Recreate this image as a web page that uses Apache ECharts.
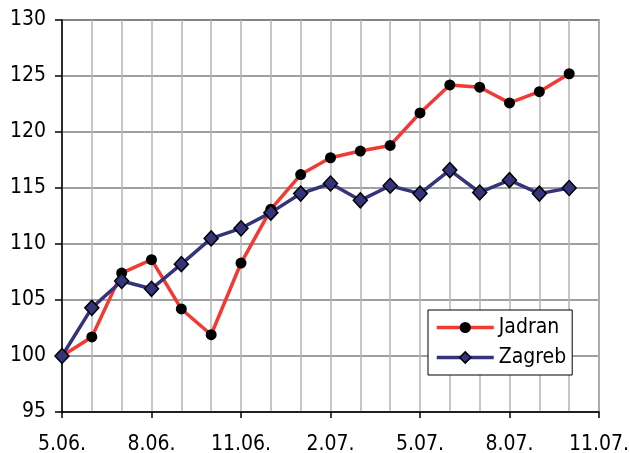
<!DOCTYPE html>
<html>
<head>
<meta charset="utf-8">
<script src="https://cdn.jsdelivr.net/npm/echarts@6/dist/echarts.min.js"></script>
<style>html,body{margin:0;padding:0;background:#fff}#c{width:629px;height:453px}</style>
</head>
<body>
<div id="c"></div>
<script>
const categories = ['5.06.','6.06.','7.06.','8.06.','9.06.','10.06.','11.06.','12.06.','1.07.','2.07.','3.07.','4.07.','5.07.','6.07.','7.07.','8.07.','9.07.','10.07.','11.07.'];
const jadran = [100, 101.7, 107.4, 108.6, 104.2, 101.9, 108.3, 113.1, 116.2, 117.7, 118.3, 118.8, 121.7, 124.2, 124.0, 122.6, 123.6, 125.2];
const zagreb = [100, 104.3, 106.7, 106.0, 108.2, 110.5, 111.4, 112.8, 114.5, 115.4, 113.9, 115.2, 114.5, 116.6, 114.6, 115.7, 114.5, 115.0];
const yTicks = {min: 95, max: 130, interval: 5};

const FONT = 'DejaVu Sans Condensed';
const FS = 21;
const chart = echarts.init(document.getElementById('c'), null, {renderer: 'canvas'});
chart.setOption({
  animation: false,
  backgroundColor: '#ffffff',
  textStyle: {fontFamily: FONT},
  grid: {left: 62, right: 30, top: 20, bottom: 41, outerBoundsMode: 'none', containLabel: false, show: true, borderColor: '#6a6a6a', borderWidth: 1.5, backgroundColor: 'transparent'},
  legend: {
    left: 428, top: 310,
    orient: 'vertical',
    backgroundColor: '#fff', borderColor: '#000', borderWidth: 1,
    padding: [7, 6, 7, 7],
    itemGap: 9,
    itemWidth: 57, itemHeight: 14,
    textStyle: {fontFamily: FONT, fontSize: FS, color: '#000'},
    data: [
      {name: 'Jadran', itemStyle: {color: '#000'}, lineStyle: {color: '#f23a34', width: 3.5}},
      {name: 'Zagreb', itemStyle: {color: '#35337a', borderColor: '#000', borderWidth: 1.5}, lineStyle: {color: '#35337a', width: 3.5}}
    ]
  },
  xAxis: {
    type: 'category',
    data: categories,
    boundaryGap: false,
    axisLine: {lineStyle: {color: '#000', width: 1.5}},
    axisTick: {show: true, interval: 2, length: 6, lineStyle: {color: '#000', width: 1.5}},
    axisLabel: {interval: 2, margin: 22, fontFamily: FONT, fontSize: FS, color: '#000'},
    splitLine: {show: true, interval: 0, lineStyle: {color: '#b4b4b4', width: 1.5}}
  },
  yAxis: {
    type: 'value',
    min: yTicks.min, max: yTicks.max, interval: yTicks.interval,
    axisLine: {show: true, lineStyle: {color: '#000', width: 1.5}},
    axisTick: {show: true, length: 7, lineStyle: {color: '#000', width: 1.5}},
    axisLabel: {margin: 16, fontFamily: FONT, fontSize: FS, color: '#000'},
    splitLine: {show: true, lineStyle: {color: '#808080', width: 1.5}}
  },
  series: [
    {
      name: 'Jadran', type: 'line', data: jadran,
      symbol: 'circle', symbolSize: 11, showAllSymbol: true,
      lineStyle: {color: '#f23a34', width: 3.5},
      itemStyle: {color: '#000', borderColor: '#000', borderWidth: 0},
      emphasis: {disabled: true}
    },
    {
      name: 'Zagreb', type: 'line', data: zagreb,
      symbol: 'diamond', symbolSize: [14, 15], showAllSymbol: true,
      lineStyle: {color: '#35337a', width: 3.5},
      itemStyle: {color: '#35337a', borderColor: '#000', borderWidth: 1.5},
      emphasis: {disabled: true}
    }
  ]
});
</script>
</body>
</html>
